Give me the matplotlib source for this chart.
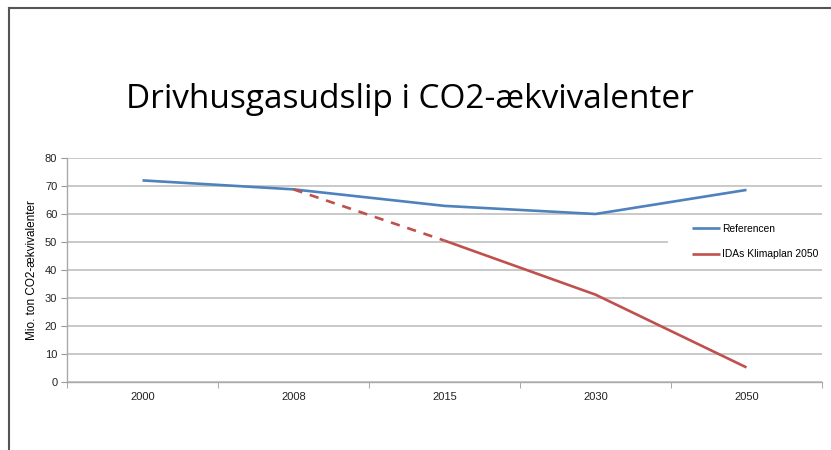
import matplotlib.pyplot as plt
from matplotlib.lines import Line2D
from matplotlib.patches import Rectangle

years = ['2000', '2008', '2015', '2030', '2050']
referencen = [72.0, 68.8, 62.9, 60.0, 68.6]
ida_dashed = [68.8, 50.5]          # 2008 -> 2015
ida_solid = [50.5, 31.2, 5.2]      # 2015 -> 2050
yticks = [0, 10, 20, 30, 40, 50, 60, 70, 80]

plt.rcParams['font.family'] = ['Liberation Sans', 'DejaVu Sans']

fig = plt.figure(figsize=(8.31, 4.5), dpi=100)
ax = fig.add_axes([67/831, 68/450, 755/831, 224/450])

x = list(range(len(years)))
blue = '#4F81BD'
red = '#C0504D'

ax.plot(x, referencen, color=blue, lw=1.9, label='Referencen', solid_capstyle='butt')
ax.plot(x[1:3], ida_dashed, color=red, lw=1.9, ls=(0, (3.5, 3)), dash_capstyle='butt')
ax.plot(x[2:], ida_solid, color=red, lw=1.9, label='IDAs Klimaplan 2050', solid_capstyle='butt')

ax.set_xlim(-0.5, len(years) - 0.5)
ax.set_ylim(0, 80)
ax.set_yticks(yticks)
ax.set_xticks(x)
ax.set_xticklabels(years)
ax.set_xticks([i - 0.5 for i in range(len(years) + 1)], minor=True)
ax.tick_params(axis='x', which='major', length=0, pad=7, labelsize=8, colors='#222222')
ax.tick_params(axis='x', which='minor', length=4, color='#999999', direction='out')
ax.tick_params(axis='y', length=4, color='#999999', labelcolor='#222222', labelsize=8, pad=3)

ax.grid(True, axis='y', color='#c0c0c0', lw=1.2)
ax.set_axisbelow(True)
for s in ['top', 'right']:
    ax.spines[s].set_visible(False)
for s in ['left', 'bottom']:
    ax.spines[s].set_color('#aaaaaa')
    ax.spines[s].set_linewidth(1.0)

ax.set_ylabel('Mio. ton CO2-ækvivalenter', fontsize=8.5, labelpad=5)

# white box behind the legend, hides part of the grid
ax.add_patch(Rectangle((601/755, (382-266)/224), 154/755, 46/224, transform=ax.transAxes,
                       facecolor='white', edgecolor='none', zorder=1.5, clip_on=False))
leg = ax.legend(loc='upper left', bbox_to_anchor=(625/755, (382-224)/224),
                frameon=False, fontsize=7.4, handlelength=2.7, handletextpad=0.2,
                labelspacing=1.5, borderaxespad=0, borderpad=0)

fig.text(410/831, 1 - 100/450, 'Drivhusgasudslip i CO2-ækvivalenter',
         ha='center', va='center', fontsize=24, family=['Open Sans', 'DejaVu Sans'])

fig.add_artist(Line2D([9/831, 830/831], [1 - 7.5/450, 1 - 7.5/450],
                      transform=fig.transFigure, color='#555555', lw=1.5))
fig.add_artist(Line2D([9/831, 9/831], [0, 1 - 7.5/450],
                      transform=fig.transFigure, color='#555555', lw=1.5))

fig.savefig('out.png', dpi=100)
